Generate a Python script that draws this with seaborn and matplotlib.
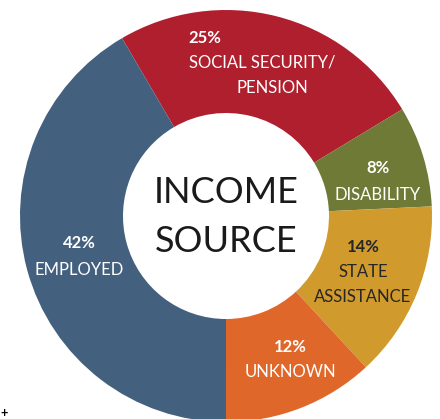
import matplotlib
matplotlib.use("Agg")
import matplotlib.pyplot as plt
import seaborn as sns

sns.set_theme(style="white")
plt.rcParams["font.family"] = ["Lato", "DejaVu Sans"]

# clockwise from the top-left boundary
categories = ["SOCIAL SECURITY/\nPENSION", "DISABILITY", "STATE\nASSISTANCE", "UNKNOWN", "EMPLOYED"]
shares = [25, 8, 14, 12, 42]
colors = ["#B01F2E", "#6E7A36", "#D09A2C", "#E0672A", "#43617F"]
label_colors = ["white", "white", "#262626", "white", "white"]

W, H = 440, 419
fig = plt.figure(figsize=(W / 100, H / 100), dpi=100)
ax = fig.add_axes([0, 0, 1, 1])

cx, cy, r = 226, H - 216, 206
ax.pie(
    shares,
    colors=colors,
    startangle=120.3,
    counterclock=False,
    center=(cx, cy),
    radius=r,
    wedgeprops={"width": r * 0.5, "linewidth": 0},
    frame=True,
)
ax.set_xlim(0, W)
ax.set_ylim(0, H)
ax.set_aspect("equal")
ax.axis("off")

# pixel positions (x, baseline from top) for percent and each label line
pct_pos = [(205, 43), (378, 173), (363, 252), (290, 352), (79, 248)]
line_pos = [[(262, 68), (272, 93)], [(378, 200)], [(363, 277), (363, 302)], [(290, 377)], [(79, 275)]]
for cat, val, col, (px, py), lines in zip(categories, shares, label_colors, pct_pos, line_pos):
    ax.text(px, H - py, f"{val}%", color=col, fontsize=12, fontweight="bold",
            ha="center", va="baseline")
    for txt, (lx, ly) in zip(cat.split("\n"), lines):
        ax.text(lx, H - ly, txt, color=col, fontsize=12, ha="center", va="baseline")

ax.text(cx, H - 203, "INCOME", fontsize=26, ha="center", va="baseline", color="#1a1a1a")
ax.text(cx, H - 252, "SOURCE", fontsize=26, ha="center", va="baseline", color="#1a1a1a")
ax.text(4, H - 413, "+", fontsize=9, ha="center", va="center", color="black", fontweight="bold")

fig.savefig("out.png", dpi=100)
